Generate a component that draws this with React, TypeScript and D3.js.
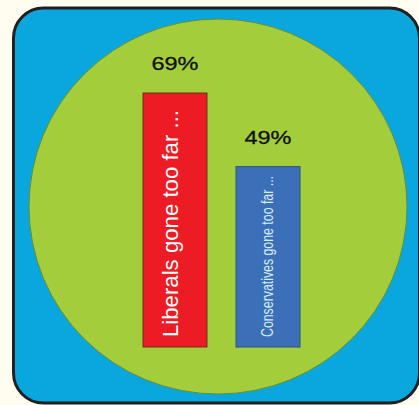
import React from "react";
import * as d3 from "d3";

const categories = ["Liberals gone too far ...", "Conservatives gone too far ..."];
const values = [69, 49];
const valueLabels = ["69%", "49%"];
const barColors = ["#ED1C24", "#3B70B8"];
const barStrokes = ["#6b2f1c", "#2c4f86"];
const textColors = ["#ffffff", "#d6ecfa"];

const W = 419;
const H = 405;

export default function App() {
  const x = d3
    .scaleBand<string>()
    .domain(categories)
    .range([143, 300])
    .paddingInner(0.312)
    .paddingOuter(0);
  const y = d3.scaleLinear().domain([0, 69]).range([347, 93]);

  const inner = [
    { size: 22, len: 227 },
    { size: 16, len: 161 },
  ];

  return (
    <svg
      width={W}
      height={H}
      style={{ position: "fixed", left: 0, top: 0, display: "block" }}
      fontFamily="Liberation Sans, Arial, sans-serif"
    >
      <rect x={0} y={0} width={W} height={H} fill="#FFFDF0" />
      <rect
        x={13.5}
        y={8}
        width={406}
        height={395}
        rx={30}
        ry={30}
        fill="#0AA6DE"
        stroke="#231f20"
        strokeWidth={3}
      />
      <ellipse cx={218} cy={206.5} rx={189} ry={187.5} fill="#A4CD3B" stroke="#5f8f3a" strokeWidth={1} />
      {categories.map((c, i) => {
        const bx = x(c) as number;
        const bw = x.bandwidth();
        const top = y(values[i]);
        const base = y(0);
        const cxm = bx + bw / 2;
        return (
          <g key={c}>
            <rect
              x={bx}
              y={top}
              width={bw}
              height={base - top}
              fill={barColors[i]}
              stroke={barStrokes[i]}
              strokeWidth={1}
            />
            <text
              x={cxm}
              y={top - 23}
              textAnchor="middle"
              fontSize={19}
              fill="#111"
              stroke="#111"
              strokeWidth={0.3}
              textLength={47}
              lengthAdjust="spacingAndGlyphs"
            >
              {valueLabels[i]}
            </text>
            <text
              transform={`translate(${cxm + (i === 0 ? 3 : 5)},${base - 10}) rotate(-90)`}
              fontSize={inner[i].size}
              fill={textColors[i]}
              textLength={inner[i].len}
              lengthAdjust="spacingAndGlyphs"
            >
              {c}
            </text>
          </g>
        );
      })}
    </svg>
  );
}
